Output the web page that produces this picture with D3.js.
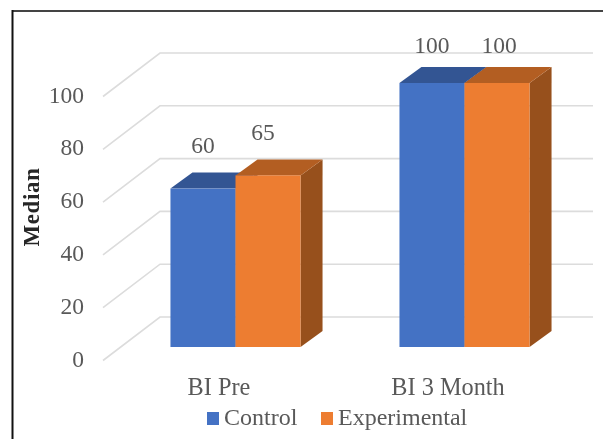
<!DOCTYPE html>
<html><head><meta charset="utf-8">
<script src="https://cdn.jsdelivr.net/npm/d3@7"></script>
<style>html,body{margin:0;padding:0;background:#fff}svg{display:block;filter:blur(0.35px)}text{font-family:"Liberation Serif",serif}</style>
</head><body><svg id="c" width="603" height="439"></svg>
<script>
const categories = ["BI Pre", "BI 3 Month"];
const seriesNames = ["Control", "Experimental"];
const controlValues = [60, 100];
const experimentalValues = [65, 100];
const yTicks = [0, 20, 40, 60, 80, 100];
const yTitle = "Median";

const colors = {Control:{front:"#4472c4",top:"#335593",side:"#2f4f88"},
                Experimental:{front:"#ed7d31",top:"#b35e22",side:"#97501c"}};
const valuesBy = {Control:controlValues, Experimental:experimentalValues};
const svg = d3.select("#c");
const y = d3.scaleLinear().domain([0,100]).range([347,83]);
const x0 = d3.scaleBand().domain(categories).range([121,579]).paddingInner(0.432).paddingOuter(0.216);
const x1 = d3.scaleBand().domain(seriesNames).range([0,x0.bandwidth()]);
const depthX = 22, depthY = 16;

// Frame
svg.append("line").attr("x1",12).attr("x2",603).attr("y1",11).attr("y2",11).attr("stroke","#444").attr("stroke-width",2);
svg.append("line").attr("x1",12.5).attr("x2",12.5).attr("y1",10).attr("y2",439).attr("stroke","#111").attr("stroke-width",2);

// Gridlines: diagonal on the side wall, horizontal on the back wall
const grid = svg.append("g").attr("fill","none").attr("stroke","#dcdcdc").attr("stroke-width",1.6);
grid.selectAll("path").data(yTicks).join("path")
  .attr("d", d => { const f = y(d); return `M103,${f+13.5}L160,${f-30}L593,${f-30}`; });

// Bars, drawn back to front
categories.forEach((c,i) => {
  seriesNames.forEach(s => {
    const v = valuesBy[s][i], X = x0(c)+x1(s), W = x1.bandwidth(), T = y(v), B = y(0);
    const g = svg.append("g");
    g.append("path").attr("fill",colors[s].side)
      .attr("d",`M${X+W},${T}L${X+W+depthX},${T-depthY}L${X+W+depthX},${B-depthY}L${X+W},${B}Z`);
    g.append("path").attr("fill",colors[s].top)
      .attr("d",`M${X},${T}L${X+depthX},${T-depthY}L${X+W+depthX},${T-depthY}L${X+W},${T}Z`);
    g.append("rect").attr("x",X).attr("y",T).attr("width",W).attr("height",B-T).attr("fill",colors[s].front);
  });
});

// Y axis labels
const axis = d3.axisLeft(y).tickValues(yTicks).tickSize(0).tickPadding(0);
const ag = svg.append("g").attr("transform","translate(84,11.5)").call(axis);
ag.select(".domain").remove();
ag.selectAll("text").attr("fill","#595959").style("font-family",'"Liberation Serif",serif').style("font-size","23.5px");

// Y title
svg.append("text").attr("transform","translate(39,207) rotate(-90)").attr("text-anchor","middle")
  .attr("fill","#262626").attr("font-weight","bold").attr("font-size","23px").attr("letter-spacing","0.6px").text(yTitle);

// Category labels
const catG = svg.append("g");
categories.forEach(c => catG.append("text").attr("x",x0(c)+x0.bandwidth()/2-16.5).attr("y",395)
  .attr("text-anchor","middle").attr("fill","#595959").attr("font-size","24.3px").text(c));

// Value labels
categories.forEach((c,i) => seriesNames.forEach(s => {
  const v = valuesBy[s][i];
  const nudge = v === 65 ? -5 : (v === 100 && s === "Experimental" ? 2 : 0);
  svg.append("text").attr("x",x0(c)+x1(s)+x1.bandwidth()/2+nudge)
    .attr("y", Math.max(y(v)-35.5, 53))
    .attr("text-anchor","middle").attr("fill","#595959").attr("font-size","23.5px").text(v);
}));

// Legend
const legendX = d3.scaleOrdinal().domain(seriesNames).range([207,321]);
seriesNames.forEach(s => {
  svg.append("rect").attr("x",legendX(s)).attr("y",412).attr("width",12).attr("height",13).attr("fill",colors[s].front);
  svg.append("text").attr("x",legendX(s)+17).attr("y",424.5).attr("fill","#595959").attr("font-size","24px").text(s);
});
</script></body></html>
